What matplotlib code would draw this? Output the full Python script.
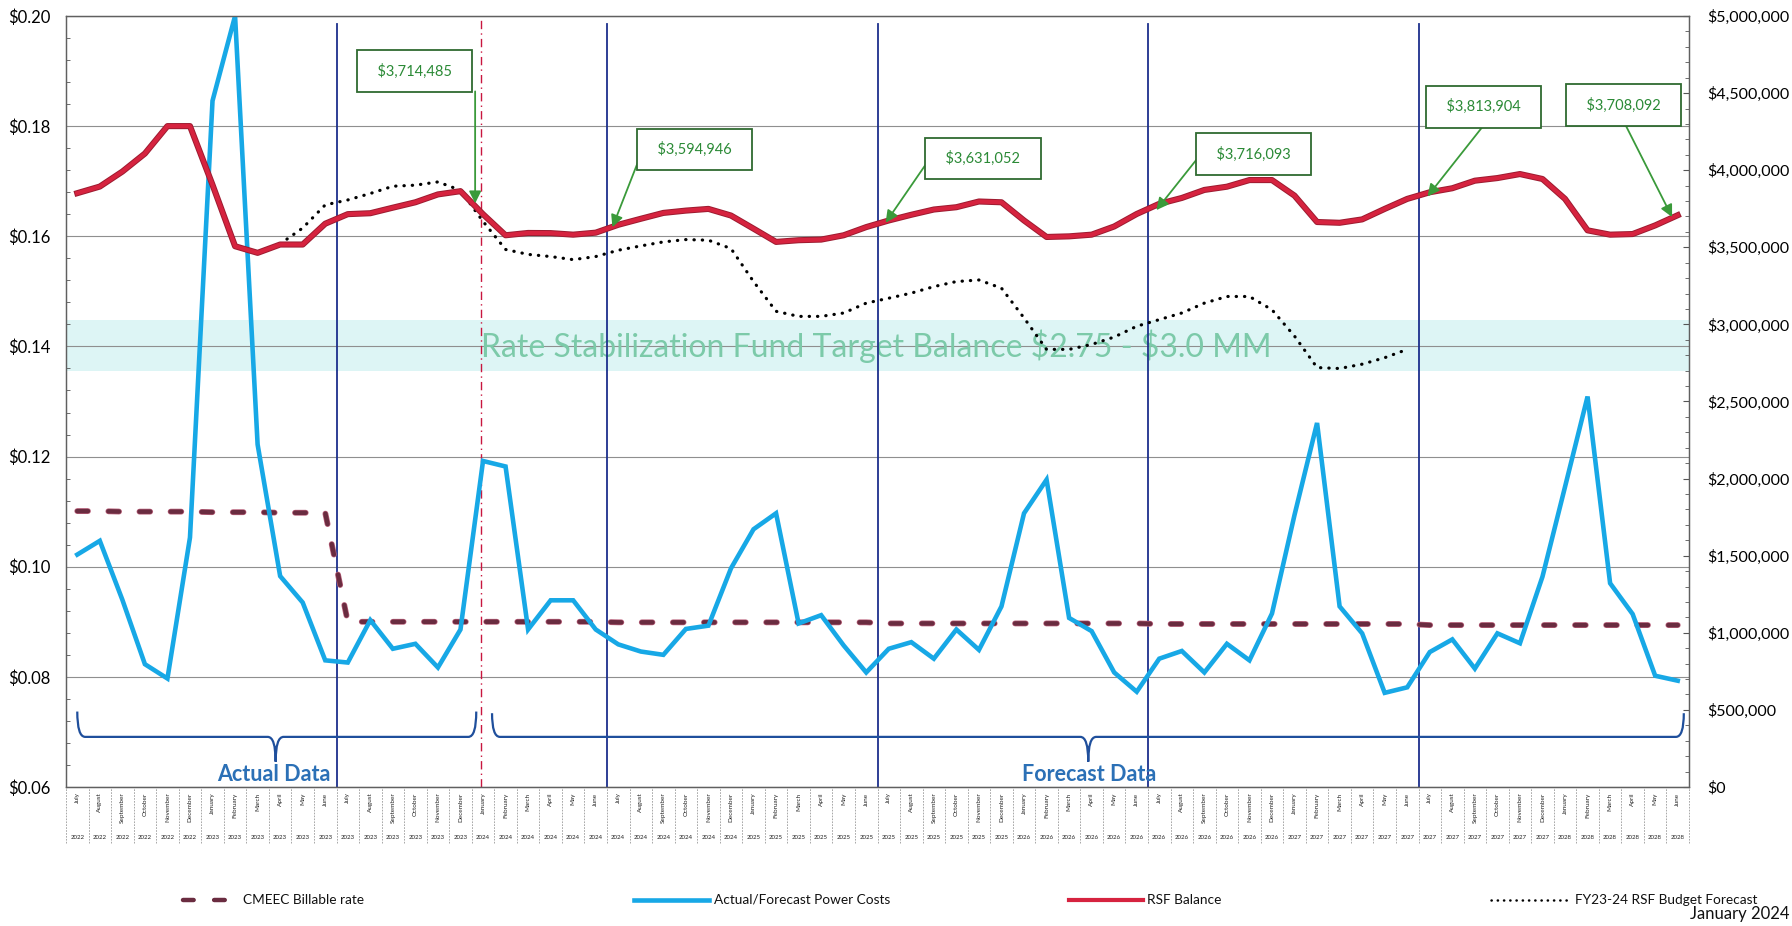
import numpy as np
import matplotlib.pyplot as plt
import matplotlib.patheffects as pe
from matplotlib.path import Path
from matplotlib.patches import PathPatch
from matplotlib.lines import Line2D
from matplotlib.ticker import MultipleLocator, FuncFormatter

plt.rcParams['font.family'] = ['Lato', 'DejaVu Sans']

# ---- data (July 2022 .. June 2028, monthly) ----
month_names = ['July', 'August', 'September', 'October', 'November', 'December',
               'January', 'February', 'March', 'April', 'May', 'June']
fiscal_years = [2022, 2023, 2024, 2025, 2026, 2027]
months = month_names * len(fiscal_years)
years = [str(y + (k >= 6)) for y in fiscal_years for k in range(12)]

# CMEEC billable rate ($/kWh, left axis)
billable_rate = [0.1101, 0.1101, 0.1100, 0.1100, 0.1100, 0.1100, 0.1099, 0.1099, 0.1099, 0.1098, 0.1098, 0.1098,
                 0.0900, 0.0900, 0.0900, 0.0900, 0.0900, 0.0900, 0.0900, 0.0900, 0.0900, 0.0900, 0.0900, 0.0900,
                 0.0899, 0.0899, 0.0899, 0.0899, 0.0899, 0.0899, 0.0899, 0.0899, 0.0899, 0.0899, 0.0899, 0.0899,
                 0.0897, 0.0897, 0.0897, 0.0897, 0.0897, 0.0897, 0.0897, 0.0897, 0.0897, 0.0897, 0.0897, 0.0897,
                 0.0896, 0.0896, 0.0896, 0.0896, 0.0896, 0.0896, 0.0896, 0.0896, 0.0896, 0.0896, 0.0896, 0.0896,
                 0.0894, 0.0894, 0.0894, 0.0894, 0.0894, 0.0894, 0.0894, 0.0894, 0.0894, 0.0894, 0.0894, 0.0894]

# actual / forecast power costs ($/kWh, left axis)
power_cost = [0.1022, 0.1047, 0.0940, 0.0823, 0.0797, 0.1053, 0.1846, 0.2000, 0.1222, 0.0983, 0.0935, 0.0830,
              0.0826, 0.0903, 0.0851, 0.0860, 0.0817, 0.0886, 0.1192, 0.1182, 0.0886, 0.0939, 0.0939, 0.0886,
              0.0859, 0.0846, 0.0840, 0.0887, 0.0893, 0.0997, 0.1068, 0.1097, 0.0897, 0.0912, 0.0857, 0.0808,
              0.0851, 0.0863, 0.0833, 0.0886, 0.0849, 0.0928, 0.1097, 0.1158, 0.0907, 0.0883, 0.0808, 0.0773,
              0.0833, 0.0847, 0.0808, 0.0860, 0.0830, 0.0915, 0.1094, 0.1261, 0.0928, 0.0879, 0.0771, 0.0781,
              0.0845, 0.0868, 0.0815, 0.0879, 0.0861, 0.0982, 0.1145, 0.1309, 0.0970, 0.0914, 0.0802, 0.0793]

# RSF balance ($, right axis)
rsf_balance = [3851000, 3894000, 3991000, 4108000, 4286000, 4286000, 3905000, 3507000, 3464000, 3518000, 3518000, 3653000,
               3715000, 3721000, 3757000, 3792000, 3843000, 3864000, 3714485, 3578000, 3593000, 3592000, 3582000, 3594946,
               3646000, 3685000, 3723000, 3738000, 3749000, 3706000, 3621000, 3535000, 3546000, 3550000, 3578000, 3631052,
               3674000, 3711000, 3745000, 3760000, 3797000, 3792000, 3674000, 3567000, 3571000, 3582000, 3635000, 3716093,
               3782000, 3820000, 3872000, 3893000, 3936000, 3936000, 3835000, 3664000, 3659000, 3681000, 3749000, 3813904,
               3857000, 3883000, 3932000, 3949000, 3975000, 3943000, 3814000, 3610000, 3582000, 3586000, 3642000, 3708092]

# FY23-24 RSF budget forecast ($, right axis), April 2023 .. June 2027
nan = np.nan
budget_forecast = [nan, nan, nan, nan, nan, nan, nan, nan, nan, 3522000, 3625000, 3775000,
                   3807000, 3849000, 3896000, 3903000, 3924000, 3870000, 3668000, 3486000, 3454000, 3440000, 3420000, 3440000,
                   3481000, 3509000, 3535000, 3550000, 3546000, 3492000, 3278000, 3085000, 3052000, 3052000, 3074000, 3138000,
                   3170000, 3203000, 3245000, 3278000, 3288000, 3235000, 3042000, 2838000, 2838000, 2870000, 2918000, 2988000,
                   3031000, 3074000, 3138000, 3181000, 3181000, 3095000, 2924000, 2720000, 2714000, 2742000, 2784000, 2838000,
                   nan, nan, nan, nan, nan, nan, nan, nan, nan, nan, nan, nan]

# callouts: (month index, label)
callouts = [(18, '$3,714,485'), (23, '$3,594,946'), (35, '$3,631,052'),
            (47, '$3,716,093'), (59, '$3,813,904'), (71, '$3,708,092')]
target_low, target_high = 2700000, 3030000

x = np.arange(len(months))
right_max = 5000000
left_lo, left_hi = 0.06, 0.20


def to_left(r):
    return left_lo + r * (left_hi - left_lo) / right_max


fig = plt.figure(figsize=(17.92, 9.26), dpi=100)
ax = fig.add_axes([66 / 1792, 1 - 787 / 926, (1689 - 66) / 1792, (787 - 16) / 926])
ax2 = ax.twinx()

ax.set_xlim(-0.5, len(months) - 0.5)
ax.set_ylim(left_lo, left_hi)
ax2.set_ylim(0, right_max)

# target band
ax.axhspan(to_left(target_low), to_left(target_high), color='#ddf5f5', zorder=0.5, lw=0)
ax.text(35.45, to_left(2860000), r'Rate Stabilization Fund Target Balance \$2.75 - \$3.0 MM',
        ha='center', va='center', fontsize=23, color='#7ccaa9', zorder=0.8)

# grid
ax.yaxis.grid(True, color='#8f8f8f', lw=0.8)
ax.set_axisbelow(True)

# fiscal year separators and "today" line
for b in [11.5, 23.5, 35.5, 47.5, 59.5]:
    ax.axvline(b, ymin=0, ymax=0.99, color='#1c2f8c', lw=1.3, zorder=1.5)
ax.axvline(17.9, color='#c8163f', lw=1.0, ls=(0, (6, 3, 1, 3)), zorder=1.5)

# series
ax.plot(x, billable_rate, color='#6a2c40', lw=3.2, ls=(0, (2.4, 4.6)), dash_capstyle='round', zorder=3,
        path_effects=[pe.Stroke(linewidth=4.2, foreground='#b9607a'), pe.Normal()])
ax.plot(x, power_cost, color='#17a8e6', lw=3.3, zorder=4, solid_joinstyle='miter')
ax2.plot(x, rsf_balance, color='#d6233f', lw=3.0, zorder=4,
         path_effects=[pe.Stroke(linewidth=4.4, foreground='#9d1b30'), pe.Normal()])
ax2.plot(x, budget_forecast, color='black', lw=2.3, ls=(0, (0.1, 2.5)), dash_capstyle='round', zorder=3)

# callouts
box_pos = {18: (14.96, 4644000), 23: (27.39, 4133000), 35: (40.18, 4074000),
           47: (52.19, 4104000), 59: (62.38, 4411000), 71: (68.6, 4422000)}
tail_pos = {18: (17.65, 4511000), 23: (25.05, 4119000), 35: (37.78, 4067000),
            47: (49.8, 4096000), 59: (62.38, 4289000), 71: (68.66, 4300000)}
head_pos = {18: (17.65, 3785000), 23: (23.74, 3630000), 35: (35.86, 3659000),
            47: (47.87, 3741000), 59: (59.9, 3830000), 71: (70.75, 3696000)}
for idx, label in callouts:
    ax2.annotate('', xy=head_pos[idx], xytext=tail_pos[idx], zorder=6,
                 arrowprops=dict(arrowstyle='-|>', color='#3a9a3a', lw=1.3, mutation_scale=18,
                                 shrinkA=0, shrinkB=0))
    ax2.text(*box_pos[idx], '  ' + label + '  ', ha='center', va='center', fontsize=10.5,
             color='#2b8a36', zorder=7,
             bbox=dict(boxstyle='square,pad=0.9', fc='white', ec='#2f6a30', lw=1.3))


# braces for actual / forecast data
def brace(x0, x1, xm, ytop, ymid, ytip):
    d = 0.35
    verts = [(x0, ytop), (x0, ymid), (x0 + d, ymid),
             (xm - d, ymid), (xm, ymid), (xm, ytip), (xm, ymid), (xm + d, ymid),
             (x1 - d, ymid), (x1, ymid), (x1, ytop)]
    codes = [Path.MOVETO, Path.CURVE3, Path.CURVE3,
             Path.LINETO, Path.CURVE3, Path.CURVE3, Path.CURVE3, Path.CURVE3,
             Path.LINETO, Path.CURVE3, Path.CURVE3]
    ax.add_patch(PathPatch(Path(verts, codes), fc='none', ec='#1f4f9c', lw=1.6, zorder=2))


brace(0.0, 17.7, 8.8, 0.0737, 0.0691, 0.0646)
brace(18.4, 71.27, 44.85, 0.0734, 0.0691, 0.0646)
ax.text(8.73, 0.0623, 'Actual Data', ha='center', va='center', fontsize=15.5,
        fontweight='bold', color='#2b70b6', zorder=5)
ax.text(44.9, 0.0623, 'Forecast Data', ha='center', va='center', fontsize=15.5,
        fontweight='bold', color='#2b70b6', zorder=5)

# axes formatting
ax.set_xticks([])
ax.yaxis.set_major_locator(MultipleLocator(0.02))
ax.yaxis.set_minor_locator(MultipleLocator(0.004))
ax.yaxis.set_major_formatter(FuncFormatter(lambda v, p: f'${v:.2f}'))
ax.tick_params(axis='y', which='major', length=0, labelsize=12, pad=11)
ax.tick_params(axis='y', which='minor', direction='in', length=3, color='#555555')

ax2.yaxis.set_major_locator(MultipleLocator(500000))
ax2.yaxis.set_minor_locator(MultipleLocator(100000))
ax2.yaxis.set_major_formatter(FuncFormatter(lambda v, p: f'${v:,.0f}'))
ax2.tick_params(axis='y', which='major', direction='in', length=4, labelsize=11.5, pad=13, color='#555555')
ax2.tick_params(axis='y', which='minor', direction='in', length=3, color='#555555')

for a in (ax, ax2):
    for s in a.spines.values():
        s.set_color('#606060')
        s.set_linewidth(0.9)

# category labels table under the axis
trans = ax.get_xaxis_transform()
ax.vlines(np.arange(-0.5, len(months), 1), -0.073, 0, transform=trans, clip_on=False,
          colors='#9a9a9a', lw=0.6, linestyles=(0, (2, 1.5)))
for i, (m, y) in enumerate(zip(months, years)):
    ax.text(i, -0.007, m, transform=trans, rotation=90, ha='center', va='top',
            fontsize=4.6, color='#222222')
    ax.text(i, -0.066, y, transform=trans, ha='center', va='center',
            fontsize=4.4, color='#222222')

# legend row
ly = 1 - 900 / 926
legend_items = [
    (183, 234, dict(color='#6a2c40', lw=3.2, ls=(0, (2.4, 4.6)), dash_capstyle='round'), 243, 'CMEEC Billable rate'),
    (634, 709, dict(color='#17a8e6', lw=3.3), 714, 'Actual/Forecast Power Costs'),
    (1069, 1143, dict(color='#d6233f', lw=3.0), 1147, 'RSF Balance'),
    (1491, 1571, dict(color='black', lw=1.8, ls=(0, (0.1, 2.4)), dash_capstyle='round'), 1575, 'FY23-24 RSF Budget Forecast'),
]
for x0, x1, style, tx, label in legend_items:
    fig.add_artist(Line2D([x0 / 1792, x1 / 1792], [ly, ly], transform=fig.transFigure, **style))
    fig.text(tx / 1792, ly, label, ha='left', va='center', fontsize=9.8, color='#111111')

fig.text(1789 / 1792, 1 - 914 / 926, 'January 2024', ha='right', va='center', fontsize=12, color='#111111')

fig.savefig('out.png', dpi=100)
plt.close(fig)
